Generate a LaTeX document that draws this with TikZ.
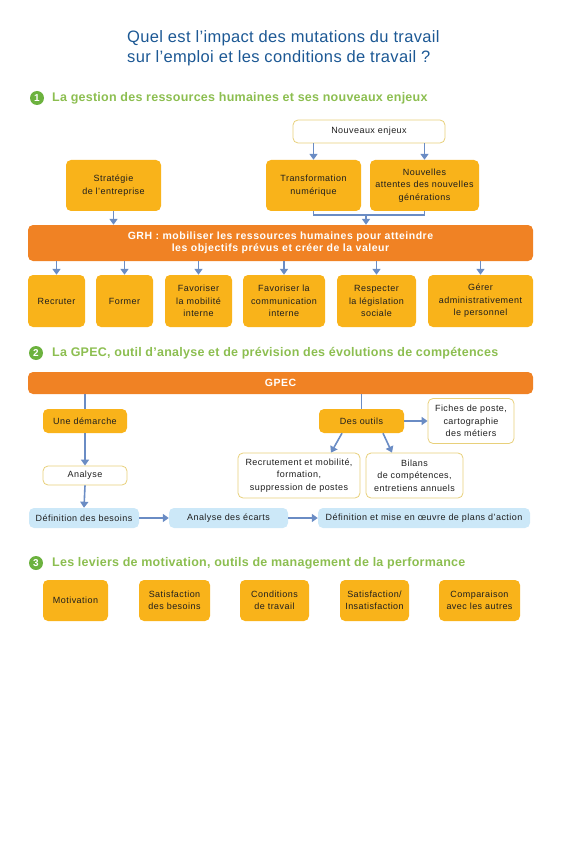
\documentclass[tikz,border=0pt]{standalone}
\usepackage{fontspec}
\setmainfont{Liberation Sans}
\newfontfamily\boxfont[LetterSpace=5]{Liberation Sans}
\newfontfamily\headfont[LetterSpace=2]{Liberation Sans}
\usetikzlibrary{arrows.meta,positioning}
\definecolor{ygold}{RGB}{249,179,26}
\definecolor{grhor}{RGB}{240,130,36}
\definecolor{arrblue}{RGB}{106,140,196}
\definecolor{wborder}{RGB}{232,208,122}
\definecolor{lblue}{RGB}{204,232,248}
\definecolor{titleblue}{RGB}{28,88,148}
\definecolor{hgreen}{RGB}{140,190,80}
\definecolor{cgreen}{RGB}{108,178,62}
\definecolor{txt}{RGB}{30,30,30}
\begin{document}
\begin{tikzpicture}[x=1pt,y=-1pt,
  base/.style={rounded corners=5pt,align=center,inner sep=1pt,font=\boxfont\fontsize{9}{12.5}\selectfont,text=txt},
  ybox/.style={base,fill=ygold},
  wbox/.style={base,fill=white,draw=wborder,line width=0.8pt},
  bbox/.style={base,fill=lblue},
  obar/.style={rounded corners=5pt,align=center,fill=grhor,text=white,font=\boxfont\bfseries\fontsize{10.5}{12.5}\selectfont},
  lnk/.style={draw=arrblue,line width=1.6pt},
  arr/.style={lnk,-{Triangle[width=8pt,length=6pt]}},
  hcirc/.style={circle,fill=cgreen,text=white,inner sep=0pt,minimum size=14pt,font=\bfseries\fontsize{10}{10}\selectfont},
  htext/.style={anchor=west,text=hgreen,inner sep=0pt,font=\headfont\bfseries\fontsize{12.5}{14}\selectfont},
  ttl/.style={text=titleblue,align=left,font=\headfont\fontsize{16.5}{20}\selectfont}
]
\useasboundingbox (0,0) rectangle (567,842);
% title
\node[ttl,anchor=west,inner sep=0pt] (title) at (127,48) {Quel est l’impact des mutations du travail\\sur l’emploi et les conditions de travail ?};
% section 1
\node[hcirc] (c1) at (37,98) {1};
\node[htext] (h1) at (52,98) {La gestion des ressources humaines et ses nouveaux enjeux};
\node[wbox,minimum width=152pt,minimum height=23pt] (nouv) at (369,131.5) {Nouveaux enjeux};
\node[ybox,minimum width=95pt,minimum height=51pt] (strat) at (113.5,185.5) {Stratégie\\de l’entreprise};
\node[ybox,minimum width=95pt,minimum height=51pt] (trans) at (313.5,185.5) {Transformation\\numérique};
\node[ybox,minimum width=109pt,minimum height=51pt] (att) at (424.5,185.5) {Nouvelles\\attentes des nouvelles\\générations};
\node[obar,minimum width=505pt,minimum height=36pt] (grh) at (280.5,243) {GRH : mobiliser les ressources humaines pour atteindre\\les objectifs prévus et créer de la valeur};
\node[ybox,minimum width=57pt,minimum height=52pt] (recr) at (56.5,301) {Recruter};
\node[ybox,minimum width=57pt,minimum height=52pt] (form) at (124.5,301) {Former};
\node[ybox,minimum width=67pt,minimum height=52pt] (mob) at (198.5,301) {Favoriser\\la mobilité\\interne};
\node[ybox,minimum width=82pt,minimum height=52pt] (comm) at (284,301) {Favoriser la\\communication\\interne};
\node[ybox,minimum width=79pt,minimum height=52pt] (legis) at (376.5,301) {Respecter\\la législation\\sociale};
\node[ybox,minimum width=105pt,minimum height=52pt] (admin) at (480.5,301) {Gérer\\administrativement\\le personnel};
\draw[arr] (nouv.south -| trans.north) -- (trans.north);
\draw[arr] (nouv.south -| att.north) -- (att.north);
\draw[arr] (strat.south) -- (strat.south |- grh.north);
\draw[lnk] (trans.south) -- ++(0,4) -| (att.south);
\coordinate (br) at (366,215);
\draw[arr] (br) -- (br |- grh.north);
\foreach \n in {recr,form,mob,comm,legis,admin}
  \draw[arr] (grh.south -| \n.north) -- (\n.north);
% section 2
\node[hcirc] (c2) at (36,353) {2};
\node[htext] (h2) at (52,353) {La GPEC, outil d’analyse et de prévision des évolutions de compétences};
\node[obar,minimum width=505pt,minimum height=22pt] (gpec) at (280.5,383) {GPEC};
\node[ybox,minimum width=84pt,minimum height=24pt] (dem) at (85,421) {Une démarche};
\node[ybox,minimum width=85pt,minimum height=24pt] (outils) at (361.5,421) {Des outils};
\node[wbox,minimum width=86pt,minimum height=45pt] (fiches) at (471,421) {Fiches de poste,\\cartographie\\des métiers};
\node[wbox,minimum width=122pt,minimum height=45pt] (recrut) at (299,475.5) {Recrutement et mobilité,\\formation,\\suppression de postes};
\node[wbox,minimum width=97pt,minimum height=45pt] (bilans) at (414.5,475.5) {Bilans\\de compétences,\\entretiens annuels};
\node[wbox,minimum width=84pt,minimum height=19pt] (analyse) at (85,475.5) {Analyse};
\node[bbox,minimum width=110pt,minimum height=20pt] (defb) at (84,518) {Définition des besoins};
\node[bbox,minimum width=119pt,minimum height=20pt] (ecarts) at (228.5,518) {Analyse des écarts};
\node[bbox,minimum width=212pt,minimum height=20pt] (defm) at (424,518) {Définition et mise en œuvre de plans d’action};
\draw[lnk] (gpec.south -| dem.north) -- (dem.north);
\draw[lnk] (gpec.south -| outils.north) -- (outils.north);
\draw[arr] (dem.south) -- (analyse.north);
\draw[arr] (analyse.south) -- (defb.north);
\draw[arr] (outils.east) -- (fiches.west);
\draw[arr] ([xshift=-19.5pt]outils.south) -- ([xshift=32pt]recrut.north);
\draw[arr] ([xshift=21.5pt]outils.south) -- ([xshift=-22.5pt]bilans.north);
\draw[arr] (defb.east) -- (ecarts.west);
\draw[arr] (ecarts.east) -- (defm.west);
% section 3
\node[hcirc] (c3) at (36,563) {3};
\node[htext] (h3) at (52,563) {Les leviers de motivation, outils de management de la performance};
\node[ybox,minimum width=65pt,minimum height=41pt] (motiv) at (75.5,600.5) {Motivation};
\node[ybox,minimum width=71pt,minimum height=41pt] (satb) at (174.5,600.5) {Satisfaction\\des besoins};
\node[ybox,minimum width=69pt,minimum height=41pt] (cond) at (274.5,600.5) {Conditions\\de travail};
\node[ybox,minimum width=69pt,minimum height=41pt] (satins) at (374.5,600.5) {Satisfaction/\\Insatisfaction};
\node[ybox,minimum width=81pt,minimum height=41pt] (comp) at (479.5,600.5) {Comparaison\\avec les autres};
\end{tikzpicture}
\end{document}
